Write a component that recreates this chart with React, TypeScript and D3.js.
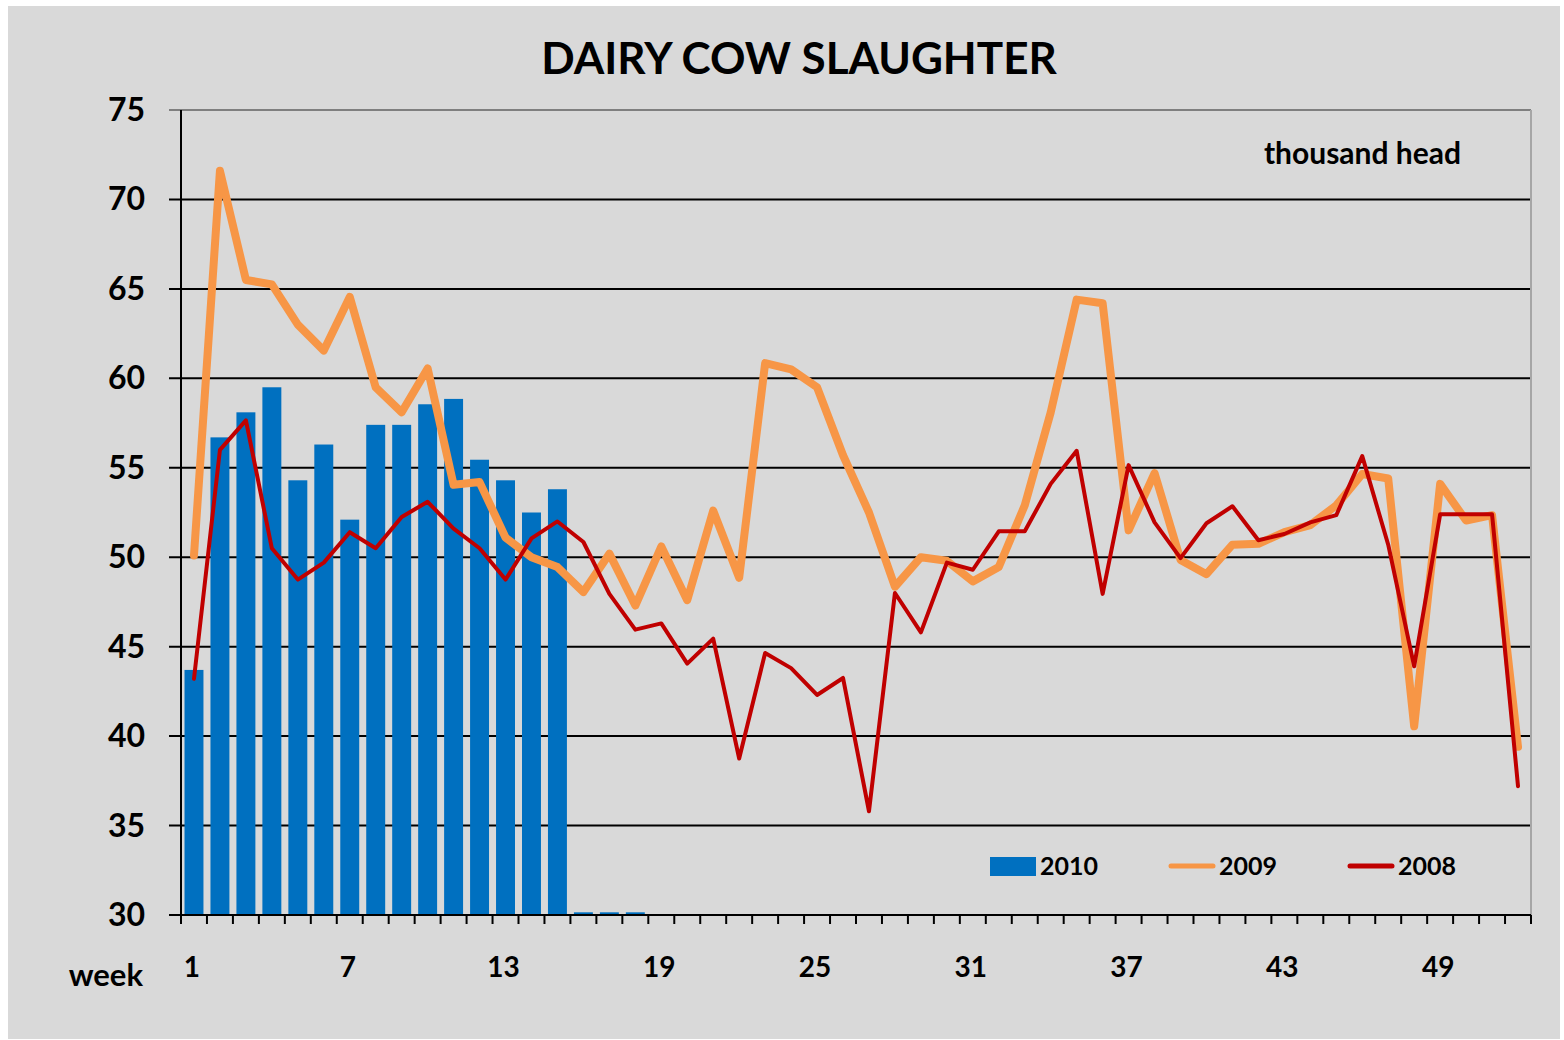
import React, { useEffect, useRef } from "react";
import * as d3 from "d3";

const weeks = d3.range(1, 53);
const tickWeeks = [1, 7, 13, 19, 25, 31, 37, 43, 49];
const yTicks = [30, 35, 40, 45, 50, 55, 60, 65, 70, 75];

// 2010 bars (weeks 16-18 are tiny stubs)
const values2010 = [
  43.7, 56.7, 58.1, 59.5, 54.3, 56.3, 52.1, 57.4, 57.4, 58.55, 58.85, 55.45, 54.3, 52.5, 53.8,
  30.15, 30.15, 30.15,
];
const values2009 = [
  50.1, 71.6, 65.5, 65.25, 63.0, 61.55, 64.55, 59.5, 58.1, 60.55, 54.05, 54.2, 51.1, 50.0, 49.45,
  48.05, 50.2, 47.3, 50.6, 47.6, 52.6, 48.85, 60.85, 60.5, 59.5, 55.7, 52.5, 48.35, 50.0, 49.8,
  48.65, 49.45, 52.9, 58.1, 64.4, 64.2, 51.5, 54.7, 49.85, 49.05, 50.7, 50.75, 51.4, 51.8, 52.9,
  54.65, 54.4, 40.55, 54.1, 52.05, 52.35, 39.4,
];
const values2008 = [
  43.2, 56.0, 57.65, 50.5, 48.75, 49.7, 51.4, 50.5, 52.25, 53.1, 51.6, 50.5, 48.75, 51.05, 52.0,
  50.85, 47.95, 45.95, 46.3, 44.05, 45.45, 38.75, 44.65, 43.8, 42.3, 43.25, 35.8, 48.0, 45.8, 49.7,
  49.3, 51.45, 51.45, 54.1, 55.95, 47.95, 55.15, 51.95, 49.95, 51.9, 52.85, 50.95, 51.3, 51.95, 52.35,
  55.65, 50.7, 43.9, 52.4, 52.4, 52.4, 37.2,
];

const legendItems = [
  { label: "2010", color: "#0070C0", kind: "bar" },
  { label: "2009", color: "#F79646", kind: "line" },
  { label: "2008", color: "#C00000", kind: "line" },
];

const font = "Lato, 'Open Sans', sans-serif";

const App = () => {
  const svgRef = useRef<SVGSVGElement>(null);

  useEffect(() => {
    document.body.style.margin = "0";
    const svg = d3.select(svgRef.current);
    svg.selectAll("*").remove();

    const width = 1564;
    const height = 1040;
    const left = 181;
    const right = 1531;
    const top = 110;
    const bottom = 915;

    svg.attr("width", width).attr("height", height);

    // chart background
    svg
      .append("rect")
      .attr("x", 8)
      .attr("y", 6)
      .attr("width", 1552)
      .attr("height", 1033)
      .attr("fill", "#d9d9d9");

    const x = d3
      .scaleBand<number>()
      .domain(weeks)
      .range([left, right])
      .paddingInner(0.27)
      .paddingOuter(0.135);
    const xc = (w: number) => (x(w) as number) + x.bandwidth() / 2;
    const y = d3.scaleLinear().domain([30, 75]).range([bottom, top]);

    // gridlines
    svg
      .append("g")
      .selectAll("line")
      .data(yTicks.filter((t) => t > 30))
      .enter()
      .append("line")
      .attr("x1", left - 12)
      .attr("x2", right)
      .attr("y1", (d) => y(d))
      .attr("y2", (d) => y(d))
      .attr("stroke", (d) => (d === 75 ? "#7f7f7f" : "#000"))
      .attr("stroke-width", 2);

    // right border of plot
    svg
      .append("line")
      .attr("x1", right)
      .attr("x2", right)
      .attr("y1", top)
      .attr("y2", bottom)
      .attr("stroke", "#a6a6a6")
      .attr("stroke-width", 2);

    // bars 2010
    svg
      .append("g")
      .selectAll("rect")
      .data(values2010)
      .enter()
      .append("rect")
      .attr("x", (d, i) => x(weeks[i]) as number)
      .attr("y", (d) => y(d))
      .attr("width", x.bandwidth())
      .attr("height", (d) => y(30) - y(d))
      .attr("fill", "#0070C0");

    const line = d3
      .line<number>()
      .x((d, i) => xc(weeks[i]))
      .y((d) => y(d));

    svg
      .append("path")
      .attr("d", line(values2009))
      .attr("fill", "none")
      .attr("stroke", "#F79646")
      .attr("stroke-width", 8)
      .attr("stroke-linejoin", "round")
      .attr("stroke-linecap", "round");

    svg
      .append("path")
      .attr("d", line(values2008))
      .attr("fill", "none")
      .attr("stroke", "#C00000")
      .attr("stroke-width", 4)
      .attr("stroke-linejoin", "round")
      .attr("stroke-linecap", "round");

    // axes lines
    svg
      .append("line")
      .attr("x1", left)
      .attr("x2", left)
      .attr("y1", top)
      .attr("y2", bottom)
      .attr("stroke", "#000")
      .attr("stroke-width", 2);
    svg
      .append("line")
      .attr("x1", left - 12)
      .attr("x2", right)
      .attr("y1", bottom)
      .attr("y2", bottom)
      .attr("stroke", "#000")
      .attr("stroke-width", 2);

    // x ticks at category boundaries
    const step = x.step();
    const boundary = (i: number) => left + x.paddingOuter() * step - (x.paddingInner() * step) / 2 + i * step;
    svg
      .append("g")
      .selectAll("line")
      .data(d3.range(0, 53))
      .enter()
      .append("line")
      .attr("x1", (d) => boundary(d))
      .attr("x2", (d) => boundary(d))
      .attr("y1", bottom)
      .attr("y2", bottom + 9)
      .attr("stroke", "#000")
      .attr("stroke-width", 2);

    // y tick labels
    svg
      .append("g")
      .selectAll("text")
      .data(yTicks)
      .enter()
      .append("text")
      .attr("x", 145)
      .attr("y", (d) => y(d) + 11)
      .attr("text-anchor", "end")
      .style("font-family", font)
      .style("font-weight", "bold")
      .style("font-size", "32px")
      .text((d) => d);

    // x tick labels
    svg
      .append("g")
      .selectAll("text")
      .data(tickWeeks)
      .enter()
      .append("text")
      .attr("x", (d) => xc(d) - 2)
      .attr("y", 977)
      .attr("text-anchor", "middle")
      .style("font-family", font)
      .style("font-weight", "bold")
      .style("font-size", "28px")
      .text((d) => d);

    svg
      .append("text")
      .attr("x", 143)
      .attr("y", 986)
      .attr("text-anchor", "end")
      .style("font-family", font)
      .style("font-weight", "bold")
      .style("font-size", "31px")
      .text("week");

    // title
    svg
      .append("text")
      .attr("x", 799)
      .attr("y", 74)
      .attr("text-anchor", "middle")
      .style("font-family", font)
      .style("font-weight", "bold")
      .style("font-size", "44px")
      .text("DAIRY COW SLAUGHTER");

    svg
      .append("text")
      .attr("x", 1461)
      .attr("y", 164)
      .attr("text-anchor", "end")
      .style("font-family", font)
      .style("font-weight", "bold")
      .style("font-size", "30px")
      .text("thousand head");

    // legend
    const legendGroup = svg.append("g");
    legendItems.forEach((d, i) => {
      const lx = 990 + i * 179;
      if (d.kind === "bar") {
        legendGroup
          .append("rect")
          .attr("x", lx)
          .attr("y", 857)
          .attr("width", 46)
          .attr("height", 19)
          .attr("fill", d.color);
      } else {
        legendGroup
          .append("line")
          .attr("x1", lx + 2)
          .attr("x2", lx + 44)
          .attr("y1", 866)
          .attr("y2", 866)
          .attr("stroke", d.color)
          .attr("stroke-width", 5)
          .attr("stroke-linecap", "round");
      }
      legendGroup
        .append("text")
        .attr("x", lx + 50)
        .attr("y", 875)
        .style("font-family", font)
        .style("font-weight", "bold")
        .style("font-size", "25px")
        .text(d.label);
    });
  }, []);

  return <svg ref={svgRef}></svg>;
};

export default App;
